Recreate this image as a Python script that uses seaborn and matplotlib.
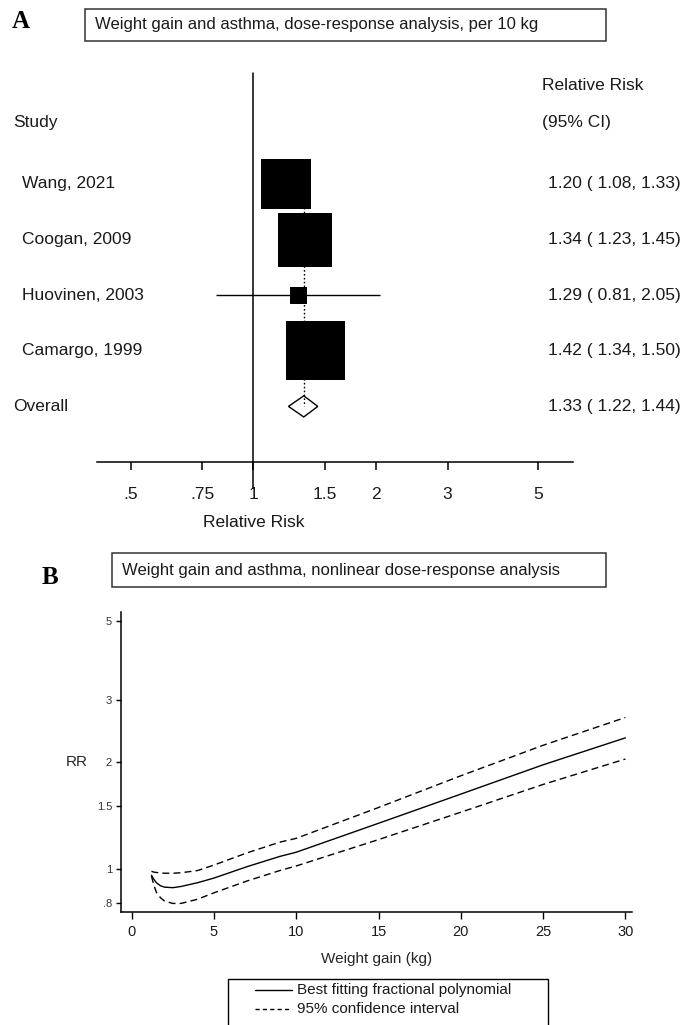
import numpy as np
import pandas as pd
import matplotlib
matplotlib.use("Agg")
import matplotlib.pyplot as plt
from matplotlib import transforms
from matplotlib.patches import Rectangle, Polygon
from matplotlib.lines import Line2D
from matplotlib.ticker import NullLocator
import seaborn as sns

# ---- Panel A: dose-response per 10 kg (forest plot) ----
studies = ["Wang, 2021", "Coogan, 2009", "Huovinen, 2003", "Camargo, 1999"]
rr = [1.20, 1.34, 1.29, 1.42]
ci_low = [1.08, 1.23, 0.81, 1.34]
ci_high = [1.33, 1.45, 2.05, 1.50]
weights = [27.2, 31.7, 3.2, 37.9]          # study weights (%)
overall_label = "Overall"
overall_rr = 1.33
overall_low = 1.22
overall_high = 1.44
forest_ticks = [0.5, 0.75, 1, 1.5, 2, 3, 5]
forest_tick_labels = [".5", ".75", "1", "1.5", "2", "3", "5"]

# ---- Panel B: nonlinear dose-response curve ----
weight_gain = [1.2, 1.35, 1.5, 1.75, 2.0, 2.5, 3.0, 4.0, 5.0, 7.0, 9.0, 10, 15, 20, 25, 30]
rr_fit = [0.960, 0.935, 0.915, 0.897, 0.889, 0.886, 0.893, 0.915, 0.943, 1.015, 1.085,
          1.115, 1.345, 1.625, 1.965, 2.34]
rr_upper = [0.985, 0.980, 0.978, 0.975, 0.973, 0.973, 0.976, 0.990, 1.026, 1.11, 1.19,
            1.22, 1.49, 1.83, 2.23, 2.67]
rr_lower = [0.955, 0.900, 0.860, 0.830, 0.812, 0.800, 0.800, 0.822, 0.857, 0.925, 0.99,
            1.02, 1.21, 1.445, 1.73, 2.04]
curve_ticks_x = [0, 5, 10, 15, 20, 25, 30]
curve_ticks_y = [0.8, 1, 1.5, 2, 3, 5]
curve_tick_labels_y = [".8", "1", "1.5", "2", "3", "5"]
legend_labels = ["Best fitting fractional polynomial", "95% confidence interval"]

sns.set_theme(style="white")
plt.rcParams["font.family"] = ["Liberation Sans", "DejaVu Sans"]
plt.rcParams["text.color"] = "#1a1a1a"

W, H = 685.0, 1025.0
fig = plt.figure(figsize=(W / 100, H / 100), dpi=100)
fig.patch.set_facecolor("white")


def fx(px):
    return px / W


def fy(py):
    return 1 - py / H


FS_A = 12.5
DASH = (5, 3)

# ================= Panel A =================
axA = fig.add_axes([fx(97), fy(462), (573 - 97) / W, (462 - 73) / H])
axA.set_xscale("log")

forest = pd.DataFrame({"study": studies, "rr": rr, "low": ci_low,
                       "high": ci_high, "weight": weights})
forest["row"] = np.arange(len(forest), dtype=float)
n = len(forest)

# confidence intervals
axA.hlines(forest["row"], forest["low"], forest["high"], color="black", lw=1.0, zorder=2)
# pooled estimate reference (dotted)
axA.plot([overall_rr, overall_rr], [0, n], color="black", lw=1.0,
         linestyle=(0, (1.2, 1.6)), zorder=3)
# pooled diamond
h = 0.19
axA.add_patch(Polygon([(overall_low, n), (overall_rr, n - h), (overall_high, n), (overall_rr, n + h)],
                      closed=True, facecolor="white", edgecolor="black", lw=1.0, zorder=2))
# weighted squares
sns.scatterplot(data=forest, x="rr", y="row", size="weight", sizes=(0, 1800),
                size_norm=(0, max(weights)), marker="s", color="black", linewidth=0,
                legend=False, ax=axA, zorder=4)

axA.set_xlim(0.4133, 6.094)
axA.set_ylim(5.0, -1.996)
# null line at RR = 1
axA.plot([1, 1], [-1.996, 5.468], color="black", lw=1.1, clip_on=False, zorder=1)

for side in ["top", "left", "right"]:
    axA.spines[side].set_visible(False)
axA.spines["bottom"].set_color("black")
axA.spines["bottom"].set_linewidth(1.1)
axA.set_xticks(forest_ticks)
axA.set_xticklabels(forest_tick_labels)
axA.xaxis.set_minor_locator(NullLocator())
axA.set_yticks([])
axA.tick_params(axis="x", bottom=True, direction="out", length=5.8, width=1.1,
                color="black", pad=12, labelsize=FS_A, labelcolor="#1a1a1a")
axA.set_xlabel("")
axA.set_ylabel("")
axA.text(1.0, 6.08, "Relative Risk", ha="center", va="center", fontsize=FS_A)

lab = transforms.blended_transform_factory(fig.transFigure, axA.transData)
axA.text(fx(13), -1.10, "Study", transform=lab, ha="left", va="center", fontsize=FS_A)
axA.text(fx(542), -1.78, "Relative Risk", transform=lab, ha="left", va="center", fontsize=FS_A)
axA.text(fx(542), -1.10, "(95% CI)", transform=lab, ha="left", va="center", fontsize=FS_A)
for i, row in forest.iterrows():
    axA.text(fx(22), row["row"], row["study"], transform=lab, ha="left", va="center", fontsize=FS_A)
    axA.text(fx(548), row["row"], f"{row['rr']:.2f} ( {row['low']:.2f}, {row['high']:.2f})",
             transform=lab, ha="left", va="center", fontsize=FS_A)
axA.text(fx(13), n, overall_label, transform=lab, ha="left", va="center", fontsize=FS_A)
axA.text(fx(548), n, f"{overall_rr:.2f} ( {overall_low:.2f}, {overall_high:.2f})",
         transform=lab, ha="left", va="center", fontsize=FS_A)

# title box and panel letter
fig.add_artist(Rectangle((fx(85), fy(41)), (606 - 85) / W, (41 - 9) / H,
                         transform=fig.transFigure, fill=False, edgecolor="#333333", lw=1.1))
fig.text(fx(95), fy(25), "Weight gain and asthma, dose-response analysis, per 10 kg",
         ha="left", va="center", fontsize=12)
fig.text(fx(21), fy(22), "A", family=["Liberation Serif", "DejaVu Serif"], fontweight="bold",
         fontsize=18, ha="center", va="center", color="black")

# ================= Panel B =================
axB = fig.add_axes([fx(121), fy(912), (632 - 121) / W, (912 - 612) / H])
axB.set_yscale("log")

k = len(weight_gain)
curve = pd.DataFrame({
    "weight_gain": weight_gain * 3,
    "rr": rr_fit + rr_upper + rr_lower,
    "band": ["fit"] * k + ["upper"] * k + ["lower"] * k,
})
sns.lineplot(data=curve, x="weight_gain", y="rr", style="band",
             dashes={"fit": "", "upper": DASH, "lower": DASH},
             color="black", lw=1.0, estimator=None, legend=False, ax=axB)

axB.set_xlim(-0.65, 30.40)
axB.set_ylim(0.7568, 5.29)
for side in ["top", "right"]:
    axB.spines[side].set_visible(False)
for side in ["left", "bottom"]:
    axB.spines[side].set_color("black")
    axB.spines[side].set_linewidth(1.1)
axB.set_xticks(curve_ticks_x)
axB.set_yticks(curve_ticks_y)
axB.set_yticklabels(curve_tick_labels_y)
axB.yaxis.set_minor_locator(NullLocator())
axB.tick_params(axis="y", left=True, direction="out", length=3.5, width=1.0, color="black",
                pad=3, labelsize=8, labelcolor="#333333")
axB.tick_params(axis="x", bottom=True, direction="out", length=5, width=1.0, color="black",
                pad=4.5, labelsize=10.5, labelcolor="#1a1a1a")
axB.set_xlabel("Weight gain (kg)", fontsize=11)
axB.xaxis.set_label_coords(0.5, (912 - 959) / 300)
axB.xaxis.label.set_va("center")
axB.set_ylabel("RR", rotation=0, fontsize=11, ha="right", va="center")
axB.yaxis.set_label_coords((88 - 121) / 511, 0.5)

fig.add_artist(Rectangle((fx(112), fy(587)), (606 - 112) / W, (587 - 553) / H,
                         transform=fig.transFigure, fill=False, edgecolor="#333333", lw=1.1))
fig.text(fx(122), fy(570), "Weight gain and asthma, nonlinear dose-response analysis",
         ha="left", va="center", fontsize=12)
fig.text(fx(50), fy(578), "B", family=["Liberation Serif", "DejaVu Serif"], fontweight="bold",
         fontsize=18, ha="center", va="center", color="black")

# legend box (runs off the bottom edge)
fig.add_artist(Rectangle((fx(228), fy(1045)), (548 - 228) / W, (1045 - 979) / H,
                         transform=fig.transFigure, fill=False, edgecolor="black", lw=1.0))
fig.add_artist(Line2D([fx(255), fx(292)], [fy(990), fy(990)], transform=fig.transFigure,
                      color="black", lw=1.0))
fig.add_artist(Line2D([fx(255), fx(292)], [fy(1009), fy(1009)], transform=fig.transFigure,
                      color="black", lw=1.0, dashes=(3, 2.3)))
fig.text(fx(297), fy(990), legend_labels[0], ha="left", va="center", fontsize=11)
fig.text(fx(297), fy(1009), legend_labels[1], ha="left", va="center", fontsize=11)

fig.savefig("out.png", dpi=100, facecolor="white")
